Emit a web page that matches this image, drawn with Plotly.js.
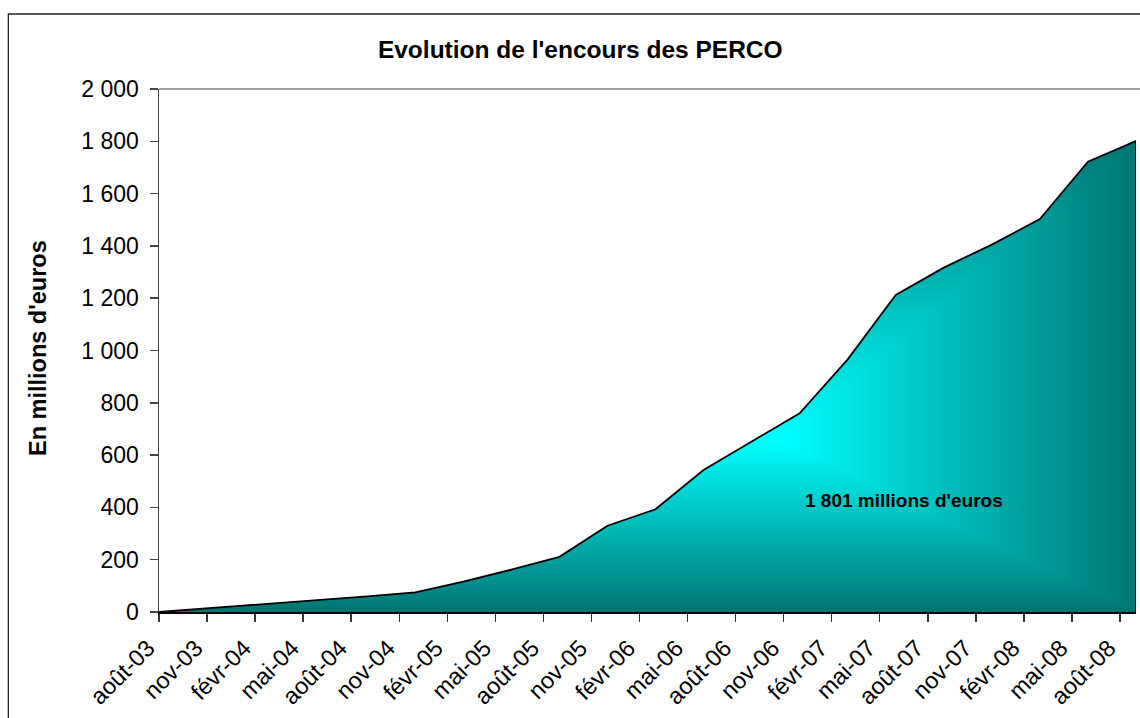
<!DOCTYPE html>
<html>
<head>
<meta charset="utf-8">
<script src="https://cdn.plot.ly/plotly-3.0.1.min.js"></script>
<style>
  html, body { margin: 0; padding: 0; background: #ffffff; }
  #chart { width: 1140px; height: 718px; }
</style>
</head>
<body>
<div id="chart"></div>
<script>
// ---- data ----
const quarterMonths = ['2003-08','2003-12','2004-03','2004-06','2004-09','2004-12',
  '2005-03','2005-06','2005-09','2005-12','2006-03','2006-06','2006-09','2006-12',
  '2007-03','2007-06','2007-09','2007-12','2008-03','2008-06','2008-09'];
const encours = [0, 18, 33, 47, 60, 75, 116, 162, 211, 330, 393, 543, 651, 760,
  966, 1212, 1317, 1405, 1503, 1722, 1801];

const tickMonthsX = ['2003-08','2003-11','2004-02','2004-05','2004-08','2004-11',
  '2005-02','2005-05','2005-08','2005-11','2006-02','2006-05','2006-08','2006-11',
  '2007-02','2007-05','2007-08','2007-11','2008-02','2008-05','2008-08'];
const tickLabelsX = ['août-03','nov-03','févr-04','mai-04','août-04','nov-04',
  'févr-05','mai-05','août-05','nov-05','févr-06','mai-06','août-06','nov-06',
  'févr-07','mai-07','août-07','nov-07','févr-08','mai-08','août-08'];
const tickValuesY = [0, 200, 400, 600, 800, 1000, 1200, 1400, 1600, 1800, 2000];
const tickLabelsY = ['0','200','400','600','800','1\u00a0000','1\u00a0200','1\u00a0400','1\u00a0600','1\u00a0800','2\u00a0000'];

const axisStartMonth = '2003-08';
const axisEndMonth = '2008-09';

// ---- helpers ----
function monthIndex(s) {
  const p = s.split('-').map(Number);
  const q = axisStartMonth.split('-').map(Number);
  return (p[0] - q[0]) * 12 + (p[1] - q[1]);
}
function fmtFr(v) {
  return String(v).replace(/\B(?=(\d{3})+(?!\d))/g, '\u00a0');
}

const xs = quarterMonths.map(monthIndex);
const lastX = xs[xs.length - 1];
const lastY = encours[encours.length - 1];
// close the outline down the right edge like the reference area outline
const xClosed = xs.concat([lastX]);
const yClosed = encours.concat([0]);

const xMin = monthIndex(axisStartMonth);
const xMax = monthIndex(axisEndMonth);

const cyan = '#00FFFF';
const teal = '#007572';
const glowX = 0.635;  // relative horizontal position of the bright centre
const glowY = 0.365;  // relative vertical position (from the bottom)

const FONT = 'Liberation Sans, Arial, Helvetica, sans-serif';

const traceH = {
  type: 'scatter', mode: 'lines', x: xClosed, y: yClosed,
  fill: 'tozeroy',
  line: { width: 0, color: 'rgba(0,0,0,0)' },
  fillgradient: {
    type: 'horizontal', start: xMin, stop: xMax,
    colorscale: [[0, teal], [glowX, cyan], [1, teal]]
  },
  hoverinfo: 'skip', showlegend: false
};
const traceV = {
  type: 'scatter', mode: 'lines', x: xClosed, y: yClosed,
  fill: 'tozeroy',
  line: { width: 1.8, color: '#000000' },
  fillgradient: {
    type: 'vertical', start: 0, stop: lastY,
    colorscale: [[0, teal], [glowY, cyan], [1, teal]]
  },
  hoverinfo: 'skip', showlegend: false
};

const layout = {
  width: 1140, height: 718,
  margin: { l: 159, r: 4, t: 89, b: 106 },
  paper_bgcolor: '#ffffff', plot_bgcolor: '#ffffff',
  font: { family: FONT, color: '#000000' },
  showlegend: false,
  title: {
    text: "Evolution de l'encours des PERCO",
    font: { family: FONT, size: 24.5, weight: 'bold', color: '#000000' },
    x: 0.509, xanchor: 'center', y: 0.931, yanchor: 'middle'
  },
  xaxis: {
    range: [xMin, xMax],
    tickmode: 'array',
    tickvals: tickMonthsX.map(monthIndex),
    ticktext: tickLabelsX,
    tickangle: -45,
    ticks: 'outside', ticklen: 8, tickwidth: 1.5, tickcolor: '#333333',
    showline: true, linecolor: '#000000', linewidth: 2,
    showgrid: false, zeroline: false,
    tickfont: { family: FONT, size: 23.5, color: '#000000' },
    ticklabelstandoff: 3,
    ticklabelshift: -11,
    fixedrange: true
  },
  yaxis: {
    range: [0, 2000],
    tickmode: 'array',
    tickvals: tickValuesY,
    ticktext: tickLabelsY,
    ticks: 'outside', ticklen: 8, tickwidth: 1.5, tickcolor: '#444444',
    showline: true, linecolor: '#444444', linewidth: 1.5,
    showgrid: false, zeroline: false,
    tickfont: { family: FONT, size: 23, color: '#000000' },
    ticklabelstandoff: 6,
    fixedrange: true
  },
  annotations: [
    {
      xref: 'paper', yref: 'paper', x: -0.1238, y: 0.5048,
      xanchor: 'center', yanchor: 'middle', textangle: -90,
      text: "En millions d'euros", showarrow: false,
      font: { family: FONT, size: 23.5, weight: 'bold', color: '#000000' }
    },
    {
      xref: 'x', yref: 'y', x: 46.5, y: 428,
      xanchor: 'center', yanchor: 'middle',
      text: fmtFr(lastY) + " millions d'euros", showarrow: false,
      font: { family: FONT, size: 19, weight: 'bold', color: '#000000' }
    }
  ],
  shapes: [
    { type: 'line', xref: 'paper', yref: 'paper', x0: 0, x1: 1.02, y0: 1, y1: 1,
      line: { color: '#a0a0a0', width: 2 } },
    { type: 'rect', xref: 'paper', yref: 'paper', x0: -0.1542, x1: 1.03, y0: -0.25, y1: 1.1434,
      line: { color: '#222222', width: 1.3 }, fillcolor: 'rgba(0,0,0,0)' }
  ]
};

Plotly.newPlot('chart', [traceH, traceV], layout, { staticPlot: true, displayModeBar: false })
  .then(function (gd) {
    const fills = gd.querySelectorAll('.scatterlayer path.js-fill');
    if (fills.length > 1) {
      fills[1].style.mixBlendMode = 'darken';
    }
  });
</script>
</body>
</html>
